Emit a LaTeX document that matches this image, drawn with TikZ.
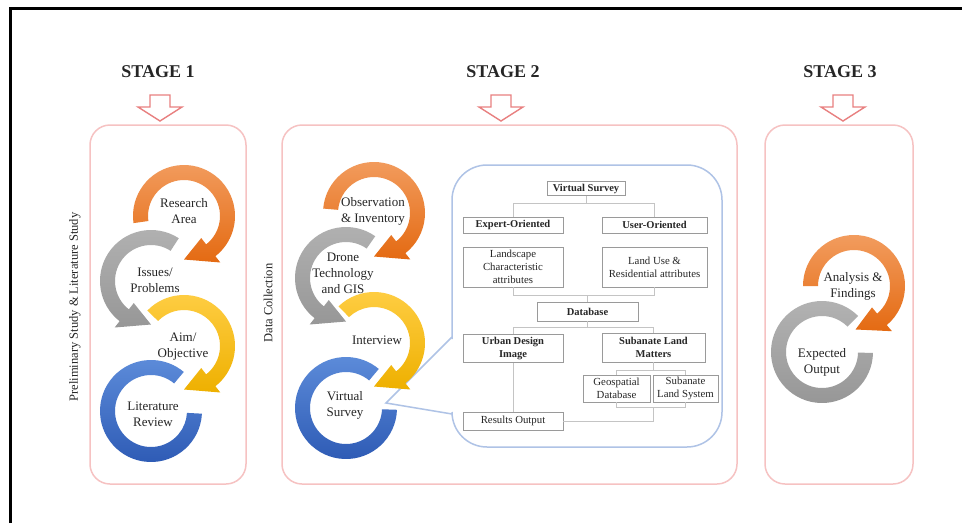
\documentclass[tikz,border=0pt]{standalone}
\usepackage{fontspec}
\setmainfont{Liberation Serif}
\usetikzlibrary{calc}
\definecolor{stageline}{HTML}{F6C2C2}
\definecolor{arrowline}{HTML}{E88080}
\definecolor{calloutline}{HTML}{AFC3E6}
\definecolor{boxline}{HTML}{9A9A9A}
\definecolor{connline}{HTML}{C4C4C4}
\definecolor{orTop}{HTML}{F29C5E}
\definecolor{orBot}{HTML}{E46A12}
\definecolor{grTop}{HTML}{B2B2B2}
\definecolor{grBot}{HTML}{979797}
\definecolor{yeTop}{HTML}{FFCE45}
\definecolor{yeBot}{HTML}{EEB000}
\definecolor{blTop}{HTML}{5C8BD9}
\definecolor{blBot}{HTML}{2E5BB5}
\definecolor{txt}{HTML}{262626}
\newcommand{\ringarrow}[5]{%
  \shade[#5] ($(#1)+(#2:51)$) arc[start angle=#2, end angle=#3, radius=51]
    -- ($(#1)+(#3:59)$) -- ($(#1)+(#4:43.5)$) -- ($(#1)+(#3:28)$) -- ($(#1)+(#3:36)$)
    arc[start angle=#3, end angle=#2, radius=36] -- cycle;}
\newcommand{\ringband}[4]{%
  \shade[#4] ($(#1)+(#2:51)$) arc[start angle=#2, end angle=#3, radius=51]
    -- ($(#1)+(#3:36)$) arc[start angle=#3, end angle=#2, radius=36] -- cycle;}
\begin{document}
\begin{tikzpicture}[x=1pt,y=-1pt,
  stagetitle/.style={font=\fontsize{18}{20}\selectfont\bfseries, text=txt, inner sep=0pt},
  downarrow/.style={draw=arrowline, line width=1.4pt, fill=white, line join=miter},
  stagebox/.style={draw=stageline, line width=1.5pt, rounded corners=20pt, inner sep=0pt},
  callout/.style={draw=calloutline, line width=1.5pt},
  fbox/.style={draw=boxline, line width=0.8pt, fill=white, inner sep=0pt, align=center,
    font=\fontsize{10.8}{13}\selectfont, text=txt},
  fboxb/.style={fbox, font=\fontsize{10.5}{13}\selectfont\bfseries},
  fline/.style={draw=connline, line width=0.9pt},
  ringtext/.style={align=center, font=\fontsize{13}{16}\selectfont, text=txt, inner sep=0pt},
  sidetext/.style={rotate=90, font=\fontsize{12.5}{14}\selectfont, text=txt, inner sep=0pt},
  cor/.style={top color=orTop, bottom color=orBot},
  cgr/.style={top color=grTop, bottom color=grBot},
  cye/.style={top color=yeTop, bottom color=yeBot},
  cbl/.style={top color=blTop, bottom color=blBot}]
\useasboundingbox (0,0) rectangle (962,523);
\fill[white] (0,0) rectangle (962,523);
% outer frame (top and left only)
\draw[line width=3pt, black] (10,523) -- (10,8.5) -- (962,8.5);

% stage titles
\node[stagetitle] (t1) at (158,72) {STAGE 1};
\node[stagetitle] (t2) at (503,72) {STAGE 2};
\node[stagetitle] (t3) at (840,72) {STAGE 3};

% hollow down arrows
\foreach \n/\cx in {a1/160, a2/501, a3/843}{
  \coordinate (\n) at (\cx,95);
  \draw[downarrow] (\n) ++(-10,0) -- ++(20,0) -- ++(0,12) -- ++(12,0) -- ++(-22,14)
     -- ++(-22,-14) -- ++(12,0) -- cycle;
}

% stage boxes
\node[stagebox, minimum width=156pt, minimum height=359pt] (s1) at (168,304.5) {};
\node[stagebox, minimum width=455pt, minimum height=359pt] (s2) at (509.5,304.5) {};
\node[stagebox, minimum width=148pt, minimum height=359pt] (s3) at (839,304.5) {};

% side labels
\node[sidetext] (l1) at (75,307) {Preliminary Study \& Literature Study};
\node[sidetext] (l2) at (268,303) {Data Collection};

% callout from Virtual Survey ring
\coordinate (ptip) at (386,403);
\draw[callout] (452,337) -- (ptip) -- (452,414);
\draw[callout, rounded corners=35pt] (452,412) -- (452,447) -- (722,447) -- (722,165)
   -- (452,165) -- (452,339);

% ring centres
\coordinate (r1a) at (184,216);
\coordinate (r1b) at (151,281);
\coordinate (r1c) at (184,346);
\coordinate (r1d) at (151,411);
\coordinate (r2a) at (374,213);
\coordinate (r2b) at (346,278);
\coordinate (r2c) at (374,343);
\coordinate (r2d) at (346,408);
\coordinate (r3a) at (854,286);
\coordinate (r3b) at (822,352);

% stage 1 rings
\ringarrow{r1a}{172}{412}{450}{cor}
\ringarrow{r1b}{303}{128}{90}{cgr}
\ringarrow{r1c}{224}{412}{450}{cye}
\ringband{r1d}{3}{310}{cbl}
% stage 2 rings
\ringarrow{r2a}{185}{412}{450}{cor}
\ringarrow{r2b}{305}{128}{90}{cgr}
\ringarrow{r2c}{226}{412}{450}{cye}
\ringband{r2d}{2}{310}{cbl}
% stage 3 rings
\ringarrow{r3a}{180}{410}{448}{cor}
\ringband{r3b}{1}{315}{cgr}

% ring labels
\node[ringtext] (x1a) at (184,211) {Research\\Area};
\node[ringtext] (x1b) at (155,280) {Issues/\\Problems};
\node[ringtext] (x1c) at (183,347) {Aim/\\Objective};
\node[ringtext] (x1d) at (153,414) {Literature\\Review};
\node[ringtext] (x2a) at (373,211) {Observation\\\& Inventory};
\node[ringtext] (x2b) at (343,273) {Drone\\Technology\\and GIS};
\node[ringtext] (x2c) at (377,340) {Interview};
\node[ringtext] (x2d) at (345,405) {Virtual\\Survey};
\node[ringtext] (x3a) at (853,286) {Analysis \&\\Findings};
\node[ringtext] (x3b) at (822,362) {Expected\\Output};

% flowchart
\node[fboxb, minimum width=78pt, minimum height=14pt] (vs) at (586,188.5) {Virtual Survey};
\node[fboxb, minimum width=100pt, minimum height=16pt] (eo) at (513,225) {Expert-Oriented};
\node[fboxb, minimum width=105pt, minimum height=16pt] (uo) at (654.5,225) {User-Oriented};
\node[fbox, minimum width=100pt, minimum height=40pt] (ls) at (513,267) {Landscape\\Characteristic\\attributes};
\node[fbox, minimum width=105pt, minimum height=40pt] (lu) at (654.5,267) {Land Use \&\\Residential attributes};
\node[fboxb, minimum width=101pt, minimum height=19pt] (db) at (587.5,311.5) {Database};
\node[fboxb, minimum width=100pt, minimum height=28pt] (ud) at (513,348.5) {Urban Design\\Image};
\node[fboxb, minimum width=103pt, minimum height=29pt] (sl) at (653.5,347.5) {Subanate Land\\Matters};
\node[fbox, minimum width=67pt, minimum height=27pt] (geo) at (616.5,388.5) {Geospatial\\Database};
\node[fbox, minimum width=65pt, minimum height=27pt] (sls) at (685.5,388.5) {Subanate\\Land System};
\node[fbox, minimum width=100pt, minimum height=18pt] (ro) at (513,421) {Results Output};
\coordinate (j) at (653.5,407);

\draw[fline] (vs.south) -- ++(0,8) -| (eo.north);
\draw[fline] (vs.south) -- ++(0,8) -| (uo.north);
\draw[fline] (ls.south) -- ++(0,8) -| (db.north);
\draw[fline] (lu.south) -- ++(0,8) -| (db.north);
\draw[fline] (db.south) -- ++(0,6) -| (ud.north);
\draw[fline] (db.south) -- ++(0,6) -| (sl.north);
\draw[fline] (sl.south) -- ++(0,8) -| (geo.north);
\draw[fline] (sl.south) -- ++(0,8) -| (sls.north);
\draw[fline] (geo.south) |- (j);
\draw[fline] (sls.south) |- (j);
\draw[fline] (j) |- (ro.east);
\draw[fline] (ud.south) -- (ro.north);
\end{tikzpicture}
\end{document}
